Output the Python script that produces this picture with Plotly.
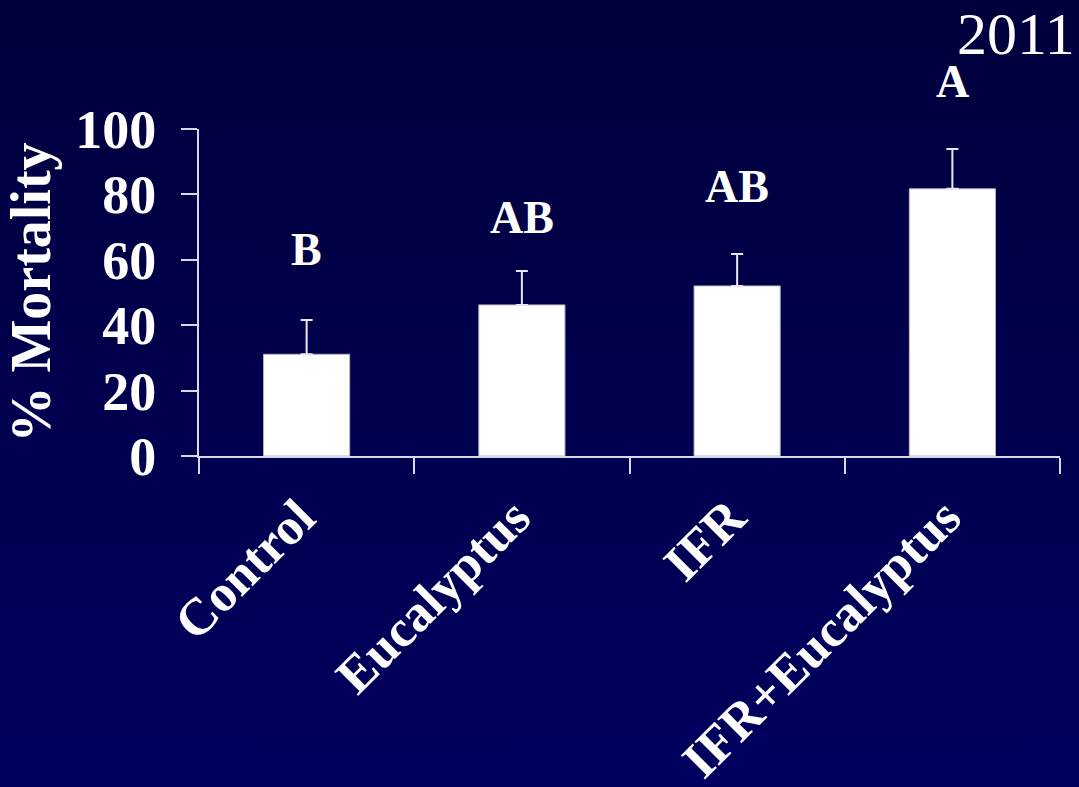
import base64
import plotly.graph_objects as go

categories = ["Control", "Eucalyptus", "IFR", "IFR+Eucalyptus"]
mortality = [31.1, 46.2, 52.0, 81.7]
error_plus = [10.5, 10.4, 9.8, 12.2]
letters = ["B", "AB", "AB", "A"]
letter_y = [63, 72.8, 82.3, 114.4]
y_ticks = [0, 20, 40, 60, 80, 100]
y_max = 100

W, H = 1079, 787
L, R, T, B = 199, 19, 129, 331
pw, ph = W - L - R, H - T - B

FONT = "Liberation Serif, Times New Roman, serif"

fig = go.Figure()
fig.add_trace(go.Bar(
    x=categories, y=mortality, width=0.4,
    marker=dict(color="white", line=dict(color="#b8b8c8", width=1)),
    error_y=dict(type="data", array=error_plus, symmetric=False,
                 arrayminus=[0] * len(categories),
                 color="#e8e8f0", thickness=2, width=6),
))

# gradient background as an SVG image covering the whole figure
svg = ('<svg xmlns="http://www.w3.org/2000/svg" width="100" height="100" preserveAspectRatio="none">'
       '<defs><linearGradient id="g" x1="0" y1="0" x2="0" y2="1">'
       '<stop offset="0" stop-color="#00003c"/><stop offset="1" stop-color="#00005f"/>'
       '</linearGradient></defs><rect width="100" height="100" fill="url(#g)"/></svg>')
src = "data:image/svg+xml;base64," + base64.b64encode(svg.encode()).decode()

annotations = []
for cat, lt, ly in zip(categories, letters, letter_y):
    annotations.append(dict(x=cat, y=ly / y_max, xref="x", yref="y domain", text=lt,
                            showarrow=False,
                            font=dict(family=FONT, size=46, color="white", weight="bold"),
                            yanchor="middle"))
annotations.append(dict(x=(W - L - 2) / pw, y=(H - B + 1) / ph, xref="paper", yref="paper",
                        xanchor="right", yanchor="top", text="2011", showarrow=False,
                        font=dict(family=FONT, size=60, color="white")))

fig.update_layout(
    width=W, height=H,
    margin=dict(l=L, r=R, t=T, b=B, autoexpand=False),
    paper_bgcolor="#00004e", plot_bgcolor="rgba(0,0,0,0)",
    showlegend=False, annotations=annotations,
    images=[dict(source=src, xref="paper", yref="paper", x=-L / pw, y=(H - B) / ph,
                 sizex=W / pw, sizey=H / ph, xanchor="left", yanchor="top",
                 sizing="stretch", layer="below")],
    font=dict(family=FONT, color="white"),
    xaxis=dict(automargin=False, showgrid=False, showline=True, linecolor="#d8d8e8", linewidth=2,
               ticks="outside", tickson="boundaries", ticklen=16, tickwidth=2,
               tickcolor="#d8d8e8", tickangle=-45, ticklabelstandoff=8, ticklabelshift=-7,
               tickfont=dict(family=FONT, size=52, color="white", weight="bold")),
    yaxis=dict(automargin=False, range=[0, y_max], tickvals=y_ticks, showgrid=False,
               zeroline=False, showline=True, linecolor="#d8d8e8", linewidth=2,
               ticks="outside", ticklen=16, tickwidth=2, tickcolor="#d8d8e8",
               ticklabelstandoff=14,
               tickfont=dict(family=FONT, size=54, color="white", weight="bold")),
    yaxis_title=dict(text="% Mortality", standoff=10,
                     font=dict(family=FONT, size=56, color="white", weight="bold")),
)

fig.write_html("out.html", config={"displayModeBar": False},
               post_script="document.body.style.margin='0';")
